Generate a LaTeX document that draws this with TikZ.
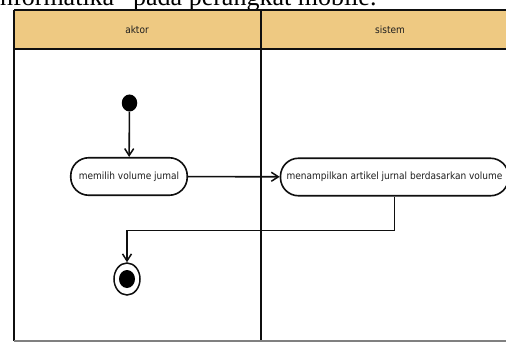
\documentclass[tikz,border=0pt]{standalone}
\usepackage{fontspec}
\setmainfont{DejaVu Sans}[FakeStretch=0.9]
\newfontfamily\serifdoc{Liberation Serif}
\usetikzlibrary{arrows.meta,shapes.geometric}
\definecolor{hdr}{RGB}{238,201,130}
\definecolor{ln}{RGB}{15,15,15}
\definecolor{txt}{RGB}{30,30,30}
\begin{document}
\begin{tikzpicture}[x=1pt,y=-1pt,
  lane/.style={draw=ln, line width=1.5pt},
  hdrtext/.style={font=\fontsize{10}{11}\selectfont, text=txt, inner sep=0},
  action/.style={draw=ln, line width=1.6pt, rounded corners=18pt, fill=white,
    font=\fontsize{10}{11}\selectfont, text=txt, inner sep=0, minimum height=37.5pt},
  flow/.style={draw=ln, line width=1.6pt, -{Straight Barb[length=7pt,width=9pt,line width=1.5pt]}},
  doctext/.style={font=\serifdoc\fontsize{26}{26}\selectfont, inner sep=0}
]
\clip (0,0) rectangle (506,342);
\fill[white] (0,0) rectangle (506,342);
% cut-off document text
\node[doctext, anchor=base east] (t1) at (126,6) {informatika”};
\node[doctext, anchor=base west] (t2) at (133,6) {pada perangkat mobile.};
% swimlanes
\fill[hdr] (14,10) rectangle (540,49);
\draw[lane] (14,10) -- (540,10);
\draw[lane] (14,49) -- (540,49);
\draw[lane] (14,10) -- (14,341);
\draw[lane] (261,10) -- (261,341);
\draw[line width=1.2pt, draw=gray] (14,341) -- (540,341);
\node[hdrtext] (aktor) at (137,30) {aktor};
\node[hdrtext] (sistem) at (390,30) {sistem};
% activity
\node[ellipse, fill=black, minimum width=15.5pt, minimum height=17pt, inner sep=0] (start) at (129.5,103) {};
\node[action, minimum width=116.5pt] (a1) at (129,176.5) {memilih volume jumal};
\node[action, minimum width=228pt] (a2) at (394.5,177) {menampilkan artikel jurnal berdasarkan volume};
\node[ellipse, draw=ln, line width=1.5pt, minimum width=26pt, minimum height=32pt, inner sep=0] (end) at (127,279) {};
\node[ellipse, fill=black, minimum width=16pt, minimum height=18pt, inner sep=0] (endin) at (end.center) {};
\draw[flow] (start) -- (a1);
\draw[flow] (a1) -- (a2);
\draw[flow] (a2.south) -- ++(0,34) -| (end.north);
\end{tikzpicture}
\end{document}
